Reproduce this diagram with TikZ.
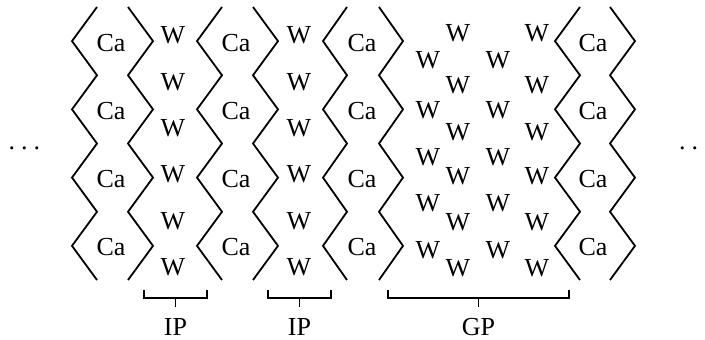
\documentclass[tikz,border=0pt]{standalone}
\usepackage{fontspec}
\setmainfont{Liberation Serif}
\begin{document}
\begin{tikzpicture}[x=1pt,y=-1pt,
  font=\fontsize{26}{30}\selectfont,
  wall/.style={draw=black,line width=1.8pt,line join=miter},
  brace/.style={draw=black,line width=1.3pt},
  atom/.style={inner sep=0pt},
  phase/.style={inner sep=0pt,font=\fontsize{26}{30}\selectfont},
  ellip/.style={inner sep=0pt}]
\useasboundingbox (0,0) rectangle (705,340);

% zigzag walls of the Ca layers: name/inner x/outer x
\foreach \name/\xin/\xout in {a/97/72,b/128/153,c/222/197,d/253/278,
    e/347/323,f/379/403,g/580/555,h/610/635}{
  \draw[wall] (\xin,7) \foreach \k in {0,...,3}{
    -- (\xout,{41.1+68.25*\k}) -- (\xin,{75.25+68.25*\k})};
}

\foreach \c/\x in {1/111,2/236,3/362,4/593}{
  \foreach \r/\y in {1/43,2/111,3/179,4/247}{
    \node[atom] (ca\c\r) at (\x,\y) {Ca};
  }
}

% W in the two intergranular phases
\foreach \r/\y in {1/35,2/82,3/128,4/174,5/221,6/267}{
  \node[atom] (wa\r) at (173,\y) {W};
  \node[atom] (wb\r) at (299,\y) {W};
}

% W in the grain phase
\foreach \r/\y in {1/33,2/85,3/132,4/176,5/222,6/268}{
  \node[atom] (gb\r) at (458,\y) {W};
  \node[atom] (gd\r) at (537,\y) {W};
}
\foreach \r/\y in {1/60,2/110,3/157,4/203,5/250}{
  \node[atom] (ga\r) at (428,\y) {W};
  \node[atom] (gc\r) at (498,\y) {W};
}

\draw[brace] (144,290)--(144,298)--(207,298)--(207,290);
\draw[brace] (175.5,298)--(175.5,307);
\draw[brace] (268,290)--(268,298)--(331,298)--(331,290);
\draw[brace] (299.5,298)--(299.5,307);
\draw[brace] (388,290)--(388,298)--(569,298)--(569,290);
\draw[brace] (478.5,298)--(478.5,307);
\node[phase] (ip1) at (175.5,327) {IP};
\node[phase] (ip2) at (299.5,327) {IP};
\node[phase] (gp) at (478.5,327) {GP};

\node[ellip] (more_l) at (24.5,148) {.\hspace{6pt}.\hspace{6pt}.};
\node[ellip,anchor=west] (more_r) at (679,148) {.\hspace{6pt}.};
\end{tikzpicture}
\end{document}
